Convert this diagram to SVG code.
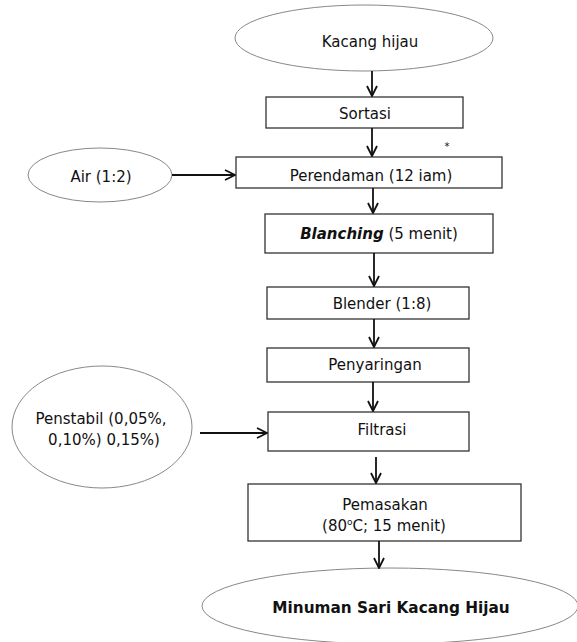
<svg xmlns="http://www.w3.org/2000/svg" width="577" height="642" viewBox="0 0 577 642">
<defs>
<marker id="ah" viewBox="0 0 12 12" refX="11" refY="6" markerWidth="12" markerHeight="12" markerUnits="userSpaceOnUse" orient="auto">
<path d="M1,1 L11,6 L1,11" fill="none" stroke="#111" stroke-width="1.8"/>
</marker>
<style>
.box{fill:#fff;stroke:#333;stroke-width:1.3}
.ell{fill:#fff;stroke:#888;stroke-width:1}
.t{font-family:"DejaVu Sans","Verdana",sans-serif;font-size:15px;fill:#111;text-anchor:middle}
.b{font-weight:bold;font-size:15.3px}
.c{stroke:#111;stroke-width:1.8;fill:none;marker-end:url(#ah)}
</style>
</defs>
<rect width="577" height="642" fill="#fff"/>
<g id="kacang"><ellipse class="ell" cx="364" cy="38" rx="129" ry="33"/><text class="t" x="370" y="47">Kacang hijau</text></g>
<g id="sortasi"><rect class="box" x="266" y="97" width="197" height="31"/><text class="t" x="365" y="119">Sortasi</text></g>
<text class="t" x="447" y="150" style="font-size:10px">*</text>
<g id="air"><ellipse class="ell" cx="100" cy="175" rx="72" ry="27"/><text class="t" x="101" y="182">Air (1:2)</text></g>
<g id="perendaman"><rect class="box" x="236" y="157" width="266" height="31"/><text class="t" x="371" y="181">Perendaman (12 iam)</text></g>
<g id="blanching"><rect class="box" x="265" y="214" width="228" height="39"/><text class="t" x="379" y="239"><tspan font-weight="bold" font-style="italic">Blanching</tspan> (5 menit)</text></g>
<g id="blender"><rect class="box" x="267" y="287" width="202" height="32"/><text class="t" x="382" y="309">Blender (1:8)</text></g>
<g id="penyaringan"><rect class="box" x="267" y="348" width="202" height="34"/><text class="t" x="375" y="370">Penyaringan</text></g>
<g id="penstabil"><ellipse class="ell" cx="102" cy="427" rx="90" ry="61"/><text class="t" x="101" y="424">Penstabil (0,05%,</text><text class="t" x="104" y="445">0,10%) 0,15%)</text></g>
<g id="filtrasi"><rect class="box" x="268" y="412" width="201" height="39"/><text class="t" x="382" y="435">Filtrasi</text></g>
<g id="pemasakan"><rect class="box" x="248" y="484" width="273" height="57"/><text class="t" x="385" y="510">Pemasakan</text><text class="t" x="384" y="531">(80<tspan dy="-6" font-size="9">o</tspan><tspan dy="6">C; 15 menit)</tspan></text></g>
<g id="minuman"><ellipse class="ell" cx="390" cy="606" rx="188" ry="38"/><text class="t b" x="391" y="613">Minuman Sari Kacang Hijau</text></g>
<g id="connectors">
<line class="c" x1="372" y1="71" x2="372" y2="96"/>
<line class="c" x1="372" y1="128" x2="372" y2="156"/>
<line class="c" x1="172" y1="175" x2="235" y2="175"/>
<line class="c" x1="373" y1="188" x2="373" y2="213"/>
<line class="c" x1="374" y1="253" x2="374" y2="286"/>
<line class="c" x1="374" y1="319" x2="374" y2="347"/>
<line class="c" x1="373" y1="382" x2="373" y2="411"/>
<line class="c" x1="200" y1="433" x2="267" y2="433"/>
<line class="c" x1="376" y1="457" x2="376" y2="483"/>
<line class="c" x1="379" y1="541" x2="379" y2="568"/>
</g>
</svg>
